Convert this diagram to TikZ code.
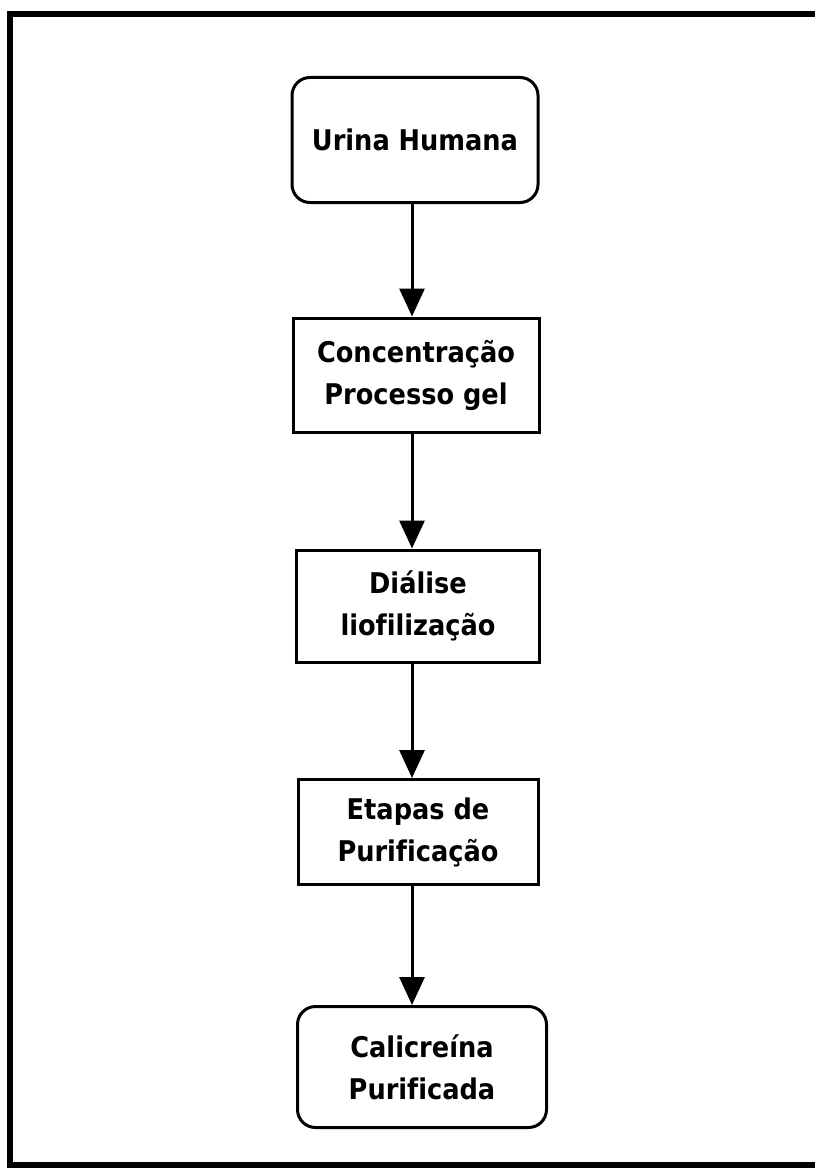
\documentclass[tikz,border=0pt]{standalone}
\usepackage{fontspec}
\setmainfont[Ligatures=NoCommon]{DejaVu Sans Condensed}
\usetikzlibrary{arrows.meta}
\tikzset{
  stepbox/.style={draw, line width=3pt, align=center, inner sep=0pt,
    font=\fontsize{28.5}{42}\selectfont\bfseries},
  endbox/.style={stepbox, rounded corners=18pt},
  flow/.style={line width=3pt, -{Triangle[width=25pt,length=28pt]}}
}
\begin{document}
\begin{tikzpicture}[x=1pt,y=-1pt]
\useasboundingbox (0,0) rectangle (815,1169);
\draw[line width=5.5pt] (815,14) -- (10,14) -- (10,1165) -- (815,1165);
\coordinate (col) at (412,0);
\node[endbox, minimum width=246pt, minimum height=125pt] (a) at (415,140) {Urina Humana};
\node[stepbox, minimum width=246pt, minimum height=114pt] (b) at (416,375) {Concentração\\Processo gel};
\node[stepbox, minimum width=243pt, minimum height=112pt] (c) at (418,606) {Diálise\\liofilização};
\node[stepbox, minimum width=240pt, minimum height=105pt] (d) at (418,832) {Etapas de\\Purificação};
\node[endbox, minimum width=249pt, minimum height=121pt] (e) at (422,1067) {Calicreína\\Purificada};
\draw[flow] (a.south -| col) -- (b.north -| col);
\draw[flow] (b.south -| col) -- (c.north -| col);
\draw[flow] (c.south -| col) -- (d.north -| col);
\draw[flow] (d.south -| col) -- (e.north -| col);
\end{tikzpicture}
\end{document}
